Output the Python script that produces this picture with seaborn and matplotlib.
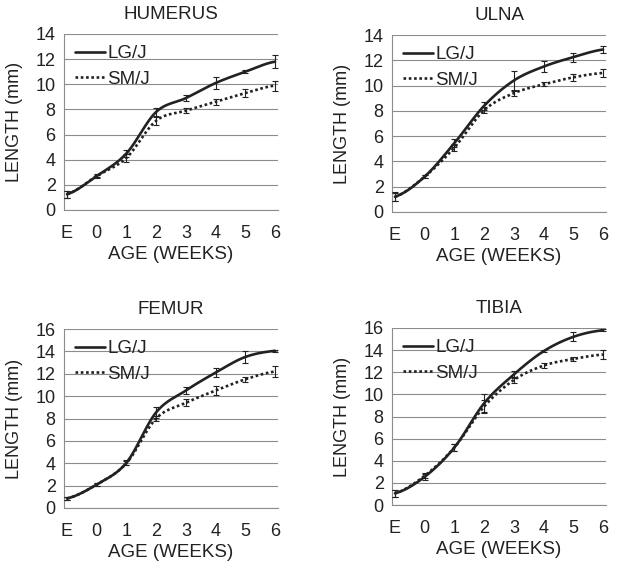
import numpy as np
import pandas as pd
import seaborn as sns
import matplotlib.pyplot as plt
from matplotlib.lines import Line2D

# 나이(주) 카테고리
ages = ['E', '0', '1', '2', '3', '4', '5', '6']

# 각 뼈별 평균 길이 (mm)와 오차
humerus_lg = [1.25, 2.7, 4.5, 7.8, 8.9, 10.1, 11.0, 11.8]
humerus_lg_err = [0.3, 0.15, 0.3, 0.35, 0.25, 0.5, 0.1, 0.5]
humerus_sm = [1.25, 2.7, 4.15, 7.1, 7.9, 8.6, 9.3, 9.9]
humerus_sm_err = [0.3, 0.1, 0.3, 0.3, 0.2, 0.25, 0.3, 0.4]

ulna_lg = [1.2, 2.8, 5.45, 8.4, 10.4, 11.5, 12.25, 12.85]
ulna_lg_err = [0.35, 0.15, 0.3, 0.3, 0.75, 0.45, 0.35, 0.3]
ulna_sm = [1.2, 2.8, 5.1, 8.05, 9.4, 10.1, 10.65, 11.0]
ulna_sm_err = [0.3, 0.1, 0.3, 0.25, 0.2, 0.15, 0.25, 0.3]

femur_lg = [0.85, 2.1, 4.05, 8.55, 10.5, 12.1, 13.5, 14.05]
femur_lg_err = [0.1, 0.15, 0.25, 0.5, 0.35, 0.4, 0.5, 0.1]
femur_sm = [0.85, 2.1, 4.0, 8.0, 9.4, 10.5, 11.5, 12.2]
femur_sm_err = [0.1, 0.15, 0.2, 0.25, 0.3, 0.4, 0.25, 0.45]

tibia_lg = [1.05, 2.55, 5.2, 9.2, 11.8, 13.9, 15.2, 15.8]
tibia_lg_err = [0.3, 0.25, 0.3, 0.8, 0.3, 0.1, 0.4, 0.1]
tibia_sm = [1.05, 2.65, 5.2, 8.9, 11.3, 12.6, 13.2, 13.6]
tibia_sm_err = [0.3, 0.25, 0.3, 0.6, 0.25, 0.2, 0.2, 0.4]

sns.set_theme(style='white')
plt.rcParams['font.family'] = ['Liberation Sans', 'DejaVu Sans']
text_color = '#222222'
grid_color = '#8c8c8c'


# 엑셀의 부드러운 선처럼 보이도록 Catmull-Rom 곡선으로 그립니다.
def smooth_curve(values, steps=25):
    y = np.asarray(values, dtype=float)
    n = len(y)
    xs, ys = [], []
    for i in range(n - 1):
        p0 = y[i - 1] if i > 0 else y[i]
        p1, p2 = y[i], y[i + 1]
        p3 = y[i + 2] if i + 2 < n else y[i + 1]
        t = np.linspace(0, 1, steps, endpoint=False)
        seg = 0.5 * ((2 * p1) + (-p0 + p2) * t + (2 * p0 - 5 * p1 + 4 * p2 - p3) * t ** 2
                     + (-p0 + 3 * p1 - 3 * p2 + p3) * t ** 3)
        xs.extend(i + t)
        ys.extend(seg)
    xs.append(n - 1)
    ys.append(y[-1])
    return np.array(xs), np.array(ys)


def draw_panel(ax, title, lg, lg_err, sm, sm_err, ymax):
    frames = []
    for name, vals in [('LG/J', lg), ('SM/J', sm)]:
        cx, cy = smooth_curve(vals)
        frames.append(pd.DataFrame({'age': cx, 'length': cy, 'strain': name}))
    df = pd.concat(frames)
    sns.lineplot(data=df, x='age', y='length', style='strain', color=text_color,
                 dashes={'LG/J': '', 'SM/J': (1, 1)}, linewidth=1.9,
                 legend=False, ax=ax, zorder=3)
    pos = np.arange(len(ages))
    ax.errorbar(pos, lg, yerr=lg_err, fmt='none', ecolor=text_color,
                elinewidth=0.8, capsize=2.5, capthick=0.8, zorder=4)
    ax.errorbar(pos, sm, yerr=sm_err, fmt='none', ecolor=text_color,
                elinewidth=0.8, capsize=2.5, capthick=0.8, zorder=4)

    ax.set_xlim(-0.1, 7.1)
    ax.set_ylim(0, ymax)
    ax.set_xticks(pos)
    ax.set_xticklabels(ages)
    ax.set_yticks(np.arange(0, ymax + 1, 2))
    ax.yaxis.grid(True, color=grid_color, linewidth=0.8)
    ax.set_axisbelow(True)
    for side in ['top', 'right']:
        ax.spines[side].set_visible(False)
    for side in ['left', 'bottom']:
        ax.spines[side].set_color(grid_color)
        ax.spines[side].set_linewidth(0.8)
    ax.tick_params(length=0, labelsize=13, colors=text_color, pad=6)
    ax.tick_params(axis='x', pad=11)
    ax.set_title(title, fontsize=13.5, color=text_color, pad=11)
    ax.set_xlabel('AGE (WEEKS)', fontsize=13.5, color=text_color, labelpad=3)
    ax.set_ylabel('LENGTH (mm)', fontsize=13, color=text_color, labelpad=9)

    handles = [Line2D([], [], color=text_color, linewidth=1.9),
               Line2D([], [], color=text_color, linewidth=1.9, dashes=(1, 1))]
    ax.legend(handles, ['LG/J', 'SM/J'], loc='upper left', frameon=False,
              fontsize=13.5, handlelength=1.6, handletextpad=0.1,
              labelspacing=0.45, borderaxespad=0.2, labelcolor=text_color)


fig = plt.figure(figsize=(6.21, 5.67), dpi=100)
W, H = 621, 567
ax_hum = fig.add_axes([64 / W, (H - 210) / H, 214 / W, 176 / H])
ax_uln = fig.add_axes([392 / W, (H - 212) / H, 214 / W, 177 / H])
ax_fem = fig.add_axes([64 / W, (H - 508) / H, 214 / W, 179 / H])
ax_tib = fig.add_axes([392 / W, (H - 505) / H, 214 / W, 177 / H])

draw_panel(ax_hum, 'HUMERUS', humerus_lg, humerus_lg_err, humerus_sm, humerus_sm_err, 14)
draw_panel(ax_uln, 'ULNA', ulna_lg, ulna_lg_err, ulna_sm, ulna_sm_err, 14)
draw_panel(ax_fem, 'FEMUR', femur_lg, femur_lg_err, femur_sm, femur_sm_err, 16)
draw_panel(ax_tib, 'TIBIA', tibia_lg, tibia_lg_err, tibia_sm, tibia_sm_err, 16)

fig.savefig('out.png', dpi=100, facecolor='white')
